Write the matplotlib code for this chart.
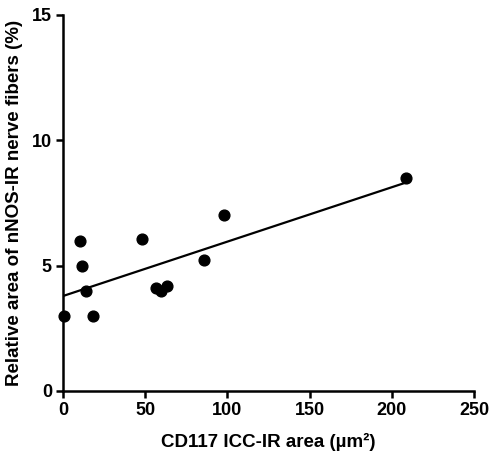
import numpy as np
import matplotlib
matplotlib.use("Agg")
import matplotlib.pyplot as plt

plt.rcParams['font.family'] = ['Liberation Sans', 'DejaVu Sans']
plt.rcParams['font.weight'] = 'bold'

# CD117 ICC-IR area vs nNOS-IR nerve fiber area
icc_area = [0.5, 10.3, 11.6, 14.0, 18.2, 48.0, 56.6, 59.6, 63.3, 85.8, 98.0, 208.6]
nnos_area = [3.0, 6.0, 5.0, 4.0, 3.0, 6.06, 4.1, 4.0, 4.2, 5.22, 7.02, 8.5]

x = np.array(icc_area)
y = np.array(nnos_area)
slope, intercept = np.polyfit(x, y, 1)
xfit = np.array([0, x.max()])

fig = plt.figure(figsize=(5, 4.58), dpi=100)
ax = fig.add_axes([0.126, 0.1463, 0.822, 0.821])

ax.scatter(x, y, s=60, color='black', zorder=3, clip_on=False)
ax.plot(xfit, slope * xfit + intercept, color='black', lw=1.6)

ax.set_xlim(0, 250)
ax.set_ylim(0, 15)
ax.set_xticks([0, 50, 100, 150, 200, 250])
ax.set_yticks([0, 5, 10, 15])

for s in ['top', 'right']:
    ax.spines[s].set_visible(False)
for s in ['left', 'bottom']:
    ax.spines[s].set_linewidth(1.8)
ax.tick_params(width=1.8, length=5, labelsize=13, pad=3)
for lab in ax.get_xticklabels() + ax.get_yticklabels():
    lab.set_fontweight('bold')

ax.set_xlabel('CD117 ICC-IR area (µm²)', fontsize=13.5, fontweight='bold', labelpad=10)
ax.set_ylabel('Relative area of nNOS-IR nerve fibers (%)', fontsize=13.5, fontweight='bold', labelpad=6)

fig.savefig('out.png', dpi=100)
